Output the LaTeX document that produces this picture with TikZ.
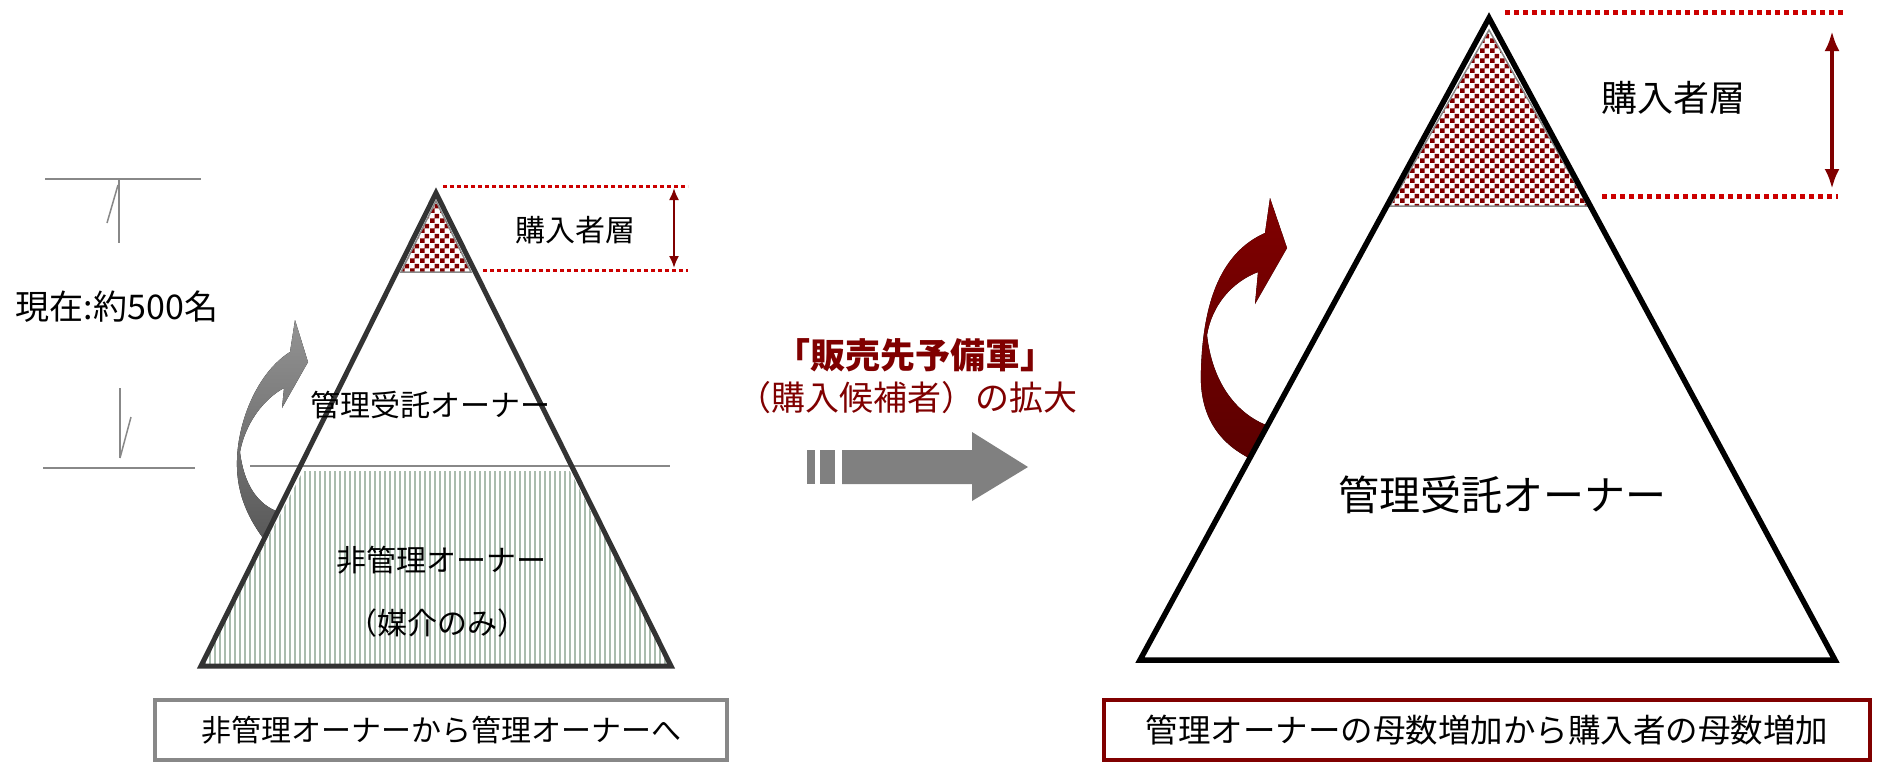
\documentclass[tikz,border=0pt]{standalone}
\usepackage{fontspec}
\setmainfont{Noto Sans CJK JP}
\usetikzlibrary{arrows.meta,patterns}
\definecolor{dred}{RGB}{128,0,0}
\definecolor{dredB}{RGB}{92,0,0}
\definecolor{dotred}{RGB}{204,0,0}
\definecolor{hatchc}{RGB}{170,188,174}
\definecolor{linegray}{RGB}{136,136,136}
\definecolor{pyrgray}{RGB}{51,51,51}
\definecolor{arrgray}{RGB}{128,128,128}
\pgfdeclarepatternformonly{mychecker}{\pgfpointorigin}{\pgfqpoint{10pt}{10pt}}{\pgfqpoint{10pt}{10pt}}{%
  \pgfpathrectangle{\pgfpointorigin}{\pgfqpoint{5pt}{5pt}}%
  \pgfpathrectangle{\pgfqpoint{5pt}{5pt}}{\pgfqpoint{5pt}{5pt}}%
  \pgfusepath{fill}}
\begin{document}
\begin{tikzpicture}[x=1pt,y=-1pt,
  jp/.style={inner sep=0pt},
  fs/.style={font=\fontsize{#1}{#1}\selectfont},
  dimline/.style={draw=linegray,line width=1.5pt},
  dotline/.style={draw=dotred,dash pattern=on 4pt off 3pt},
  checkerfill/.style={draw=linegray,line width=1.5pt,pattern=mychecker,pattern color=dred},
  boxstyle/.style={inner sep=0pt,line width=4pt,minimum height=60pt},
  dblarrow/.style={draw=dred}]
\path[use as bounding box,fill=white] (0,0) rectangle (1878,763);

% ---------- left pyramid ----------
\begin{scope}
\clip (303,471) -- (570,471) -- (672,668) -- (200,668) -- cycle;
\foreach \x in {200,205,...,672} \draw[hatchc,line width=2.2pt] (\x,471) -- (\x,668);
\end{scope}
\draw[linegray,line width=2pt] (250,466) -- (670,466);
\draw[checkerfill] (436,201) -- (471,272) -- (401,272) -- cycle;

% gray curved arrow
\fill[top color=arrgray!85,bottom color=black!65]
  (263,538) .. controls (246,515) and (236,490) .. (237,460)
  .. controls (238,420) and (258,372) .. (290,352)
  -- (295,320) -- (308,362) -- (282,408) -- (284,388)
  .. controls (262,400) and (245,425) .. (240,452)
  .. controls (244,485) and (258,505) .. (279,512) -- cycle;

\draw[pyrgray,line width=5pt] (436,193) -- (671,666) -- (201,666) -- cycle;

% dotted lines and double arrow (left)
\coordinate (lt1) at (443,186); \coordinate (lt2) at (688,186);
\coordinate (lb1) at (483,270); \coordinate (lb2) at (688,270);
\draw[dotline,line width=3pt] (lt1) -- (lt2);
\draw[dotline,line width=3pt] (lb1) -- (lb2);
\coordinate (la1) at (674,188); \coordinate (la2) at (674,268);
\draw[dblarrow,line width=2pt,{Latex[length=12pt,width=10pt]}-{Latex[length=12pt,width=10pt]}] (la1) -- (la2);

\node[jp,fs=30] (tL1) at (575,230) {購入者層};
\node[jp,fs=30] (tL2) at (430,405) {管理受託オーナー};
\node[jp,fs=30] (tL3) at (441,560) {非管理オーナー};
\node[jp,fs=30] (tL4) at (437,623) {（媒介のみ）};

% dimension marks
\draw[dimline] (45,179) -- (201,179);
\draw[dimline] (119,179) -- (119,243);
\draw[dimline] (107,223) -- (118,185);
\draw[dimline] (120,388) -- (120,458);
\draw[dimline] (120,458) -- (131,417);
\draw[dimline] (43,468) -- (195,468);
\node[jp,fs=34] (tNow) at (117,307) {現在:約500名};

% ---------- middle ----------
\node[jp,text=dred,font=\bfseries\fontsize{35}{35}\selectfont] (tM1) at (915,355) {「販売先予備軍」};
\node[jp,fs=34,text=dred] (tM2) at (907,398) {（購入候補者）の拡大};
\fill[arrgray] (807,450) rectangle (815,484);
\fill[arrgray] (820,450) rectangle (835,484);
\fill[arrgray] (842,450) -- (972,450) -- (972,432) -- (1028,467) -- (972,501) -- (972,484) -- (842,484) -- cycle;

% ---------- right pyramid ----------
\draw[checkerfill] (1489,30) -- (1588,206) -- (1390,206) -- cycle;
\fill[top color=dred,bottom color=dredB]
  (1249,458) .. controls (1214,440) and (1199,410) .. (1201,370)
  .. controls (1203,300) and (1222,252) .. (1265,233)
  -- (1270,198) -- (1287,248) -- (1255,304) -- (1258,272)
  .. controls (1232,282) and (1212,305) .. (1207,335)
  .. controls (1212,380) and (1234,412) .. (1266,425) -- cycle;
\draw[black,line width=5.5pt] (1489,18) -- (1835,660) -- (1140,660) -- cycle;

\coordinate (rt1) at (1505,12); \coordinate (rt2) at (1844,12);
\coordinate (rb1) at (1602,196); \coordinate (rb2) at (1838,196);
\draw[dotline,line width=5pt,dash pattern=on 5pt off 4pt] (rt1) -- (rt2);
\draw[dotline,line width=5pt,dash pattern=on 5pt off 4pt] (rb1) -- (rb2);
\coordinate (ra1) at (1832,31); \coordinate (ra2) at (1832,189);
\draw[dblarrow,line width=4pt,{Latex[length=20pt,width=15pt]}-{Latex[length=20pt,width=15pt]}] (ra1) -- (ra2);

\node[jp,fs=36] (tR2) at (1673,98) {購入者層};
\node[jp,fs=41] (tR1) at (1502,495) {管理受託オーナー};

% ---------- bottom boxes ----------
\node[boxstyle,draw=linegray,minimum width=572pt,fs=30] (bL) at (441,730) {非管理オーナーから管理オーナーへ};
\node[boxstyle,draw=dred,minimum width=766pt,fs=32.5] (bR) at (1487,730) {管理オーナーの母数増加から購入者の母数増加};
\end{tikzpicture}
\end{document}
